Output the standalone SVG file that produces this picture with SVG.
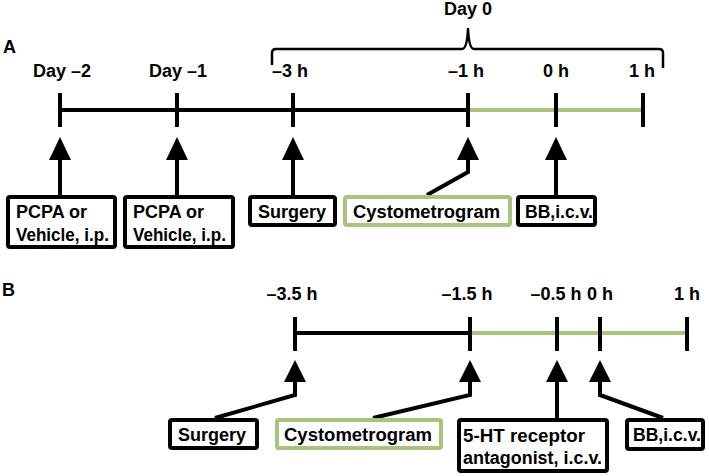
<svg xmlns="http://www.w3.org/2000/svg" width="709" height="476" viewBox="0 0 709 476">
<style>
text{font-family:"Liberation Sans",Arial,Helvetica,sans-serif;font-weight:bold;fill:#000;font-size:18px}
.lbl{text-anchor:middle}
.box{fill:#fff;stroke:#000;stroke-width:4}
.gbox{fill:#fff;stroke:#a8c47c;stroke-width:4}
.tl{stroke:#000;stroke-width:4;fill:none}
.gl{stroke:#a8c47c;stroke-width:4;fill:none}
.tick{stroke:#000;stroke-width:4}
.shaft{stroke:#000;stroke-width:4;fill:none;stroke-linejoin:miter}
.head{fill:#000}
.brk{stroke:#000;stroke-width:2.5;fill:none;stroke-linejoin:round}
</style>
<rect width="709" height="476" fill="#fff"/>
<text x="3" y="53" font-size="17">A</text>
<text x="2" y="296" font-size="17">B</text>
<g id="timeline-a">
<line class="tl" x1="60" y1="110" x2="468" y2="110"/>
<line class="gl" x1="468" y1="110" x2="643" y2="110"/>
<line class="tick" x1="60" y1="93" x2="60" y2="127"/>
<line class="tick" x1="177" y1="93" x2="177" y2="127"/>
<line class="tick" x1="293" y1="93" x2="293" y2="127"/>
<line class="tick" x1="468" y1="93" x2="468" y2="127"/>
<line class="tick" x1="556" y1="93" x2="556" y2="127"/>
<line class="tick" x1="643" y1="93" x2="643" y2="127"/>
<text class="lbl" x="62" y="77">Day –2</text>
<text class="lbl" x="178" y="77">Day –1</text>
<text class="lbl" x="290" y="77">–3 h</text>
<text class="lbl" x="466" y="77">–1 h</text>
<text class="lbl" x="556" y="77">0 h</text>
<text class="lbl" x="642" y="77">1 h</text>
<path class="brk" d="M272,65 L272,53 Q272,49 276,49 L462,49 Q467,49 468,29 Q469,49 474,49 L659,49 Q663,49 663,53 L663,68"/>
<text class="lbl" x="468" y="15">Day 0</text>
</g>
<g id="timeline-b">
<line class="tl" x1="295" y1="333" x2="470" y2="333"/>
<line class="gl" x1="470" y1="333" x2="687" y2="333"/>
<line class="tick" x1="295" y1="317" x2="295" y2="351"/>
<line class="tick" x1="470" y1="317" x2="470" y2="351"/>
<line class="tick" x1="557" y1="317" x2="557" y2="351"/>
<line class="tick" x1="600" y1="317" x2="600" y2="351"/>
<line class="tick" x1="687" y1="317" x2="687" y2="351"/>
<text class="lbl" x="292" y="300">–3.5 h</text>
<text class="lbl" x="467" y="300">–1.5 h</text>
<text class="lbl" x="556" y="300">–0.5 h</text>
<text class="lbl" x="600" y="300">0 h</text>
<text class="lbl" x="687" y="300">1 h</text>
</g>
<g id="connectors">
<path class="shaft" d="M60,158 L60,195"/>
<path class="head" d="M60,137 L71,160 L49,160 Z"/>
<path class="shaft" d="M177,158 L177,195"/>
<path class="head" d="M177,137 L188,160 L166,160 Z"/>
<path class="shaft" d="M293,158 L293,195"/>
<path class="head" d="M293,137 L304,160 L282,160 Z"/>
<path class="shaft" d="M468,158 L468,172 L427,195"/>
<path class="head" d="M468,137 L479,160 L457,160 Z"/>
<path class="shaft" d="M556,158 L556,195"/>
<path class="head" d="M556,137 L567,160 L545,160 Z"/>
<path class="shaft" d="M295,380 L295,395 L215,418"/>
<path class="head" d="M295,360 L306,382 L284,382 Z"/>
<path class="shaft" d="M470,380 L470,395 L373,418"/>
<path class="head" d="M470,360 L481,382 L459,382 Z"/>
<path class="shaft" d="M557,380 L557,418"/>
<path class="head" d="M557,360 L568,382 L546,382 Z"/>
<path class="shaft" d="M600,380 L600,395 L663,418"/>
<path class="head" d="M600,360 L611,382 L589,382 Z"/>
</g>
<g id="a-pcpa1"><rect class="box" x="8" y="197" width="107" height="50" rx="2"/><text x="16" y="218">PCPA or</text><text x="16" y="241" textLength="93" lengthAdjust="spacingAndGlyphs">Vehicle, i.p.</text></g>
<g id="a-pcpa2"><rect class="box" x="125" y="197" width="108" height="50" rx="2"/><text x="133" y="218">PCPA or</text><text x="133" y="241" textLength="93" lengthAdjust="spacingAndGlyphs">Vehicle, i.p.</text></g>
<g id="a-surgery"><rect class="box" x="250" y="197" width="85" height="28" rx="2"/><text class="lbl" x="292" y="218">Surgery</text></g>
<g id="a-cysto"><rect class="gbox" x="345" y="197" width="165" height="28" rx="2"/><text x="353" y="218" textLength="147" lengthAdjust="spacingAndGlyphs">Cystometrogram</text></g>
<g id="a-bb"><rect class="box" x="518" y="197" width="77" height="28" rx="2"/><text x="525" y="218" textLength="68" lengthAdjust="spacingAndGlyphs">BB,i.c.v.</text></g>
<g id="b-surgery"><rect class="box" x="170" y="420" width="87" height="28" rx="2"/><text class="lbl" x="212" y="441">Surgery</text></g>
<g id="b-cysto"><rect class="gbox" x="277" y="420" width="164" height="28" rx="2"/><text x="284" y="441" textLength="148" lengthAdjust="spacingAndGlyphs">Cystometrogram</text></g>
<g id="b-5ht"><rect class="box" x="459" y="420" width="148" height="51" rx="2"/><text x="463" y="442" textLength="122" lengthAdjust="spacingAndGlyphs">5-HT receptor</text><text x="463" y="464" textLength="139" lengthAdjust="spacingAndGlyphs">antagonist, i.c.v.</text></g>
<g id="b-bb"><rect class="box" x="627" y="420" width="76" height="29" rx="2"/><text x="633" y="441" textLength="68" lengthAdjust="spacingAndGlyphs">BB,i.c.v.</text></g>
</svg>
